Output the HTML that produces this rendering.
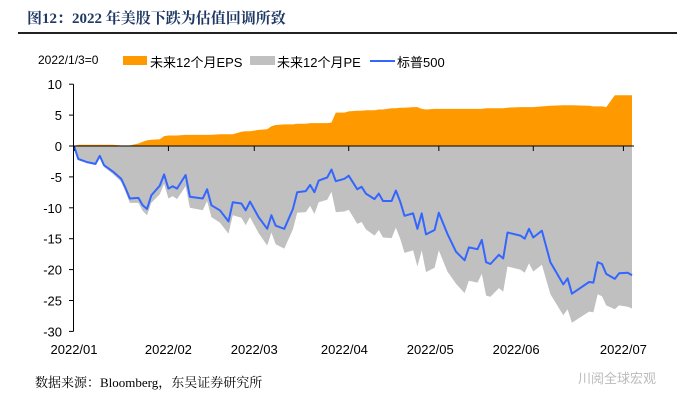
<!DOCTYPE html>
<html><head><meta charset="utf-8"><style>
body{margin:0;background:#fff;width:700px;height:404px;overflow:hidden;position:relative;font-family:"Liberation Sans","Noto Sans CJK SC",sans-serif}
.t{position:absolute;white-space:nowrap}
</style></head><body>
<div class="t" style="left:27px;top:7px;font-family:'Liberation Serif','Noto Serif CJK SC',serif;font-weight:bold;font-size:15px;color:#1f3864">图12：2022 年美股下跌为估值回调所致</div>
<div style="position:absolute;left:18px;top:32px;width:659px;height:2px;background:#222"></div>
<div class="t" style="left:38px;top:53px;font-size:12px;color:#000">2022/1/3=0</div>
<div>
<div style="position:absolute;left:123px;top:56px;width:24px;height:9px;background:#ff9900"></div>
<div class="t" style="left:150px;top:52px;font-size:13px">未来12个月EPS</div></div>
<div>
<div style="position:absolute;left:250px;top:56px;width:25px;height:9px;background:#c0c0c0"></div>
<div class="t" style="left:277px;top:52px;font-size:13px">未来12个月PE</div></div>
<div>
<div style="position:absolute;left:370px;top:60px;width:25px;height:2px;background:#3366ff"></div>
<div class="t" style="left:397px;top:52px;font-size:13px">标普500</div></div>
<svg id="chart" width="700" height="404" style="position:absolute;left:0;top:0"></svg>
<div class="t" style="left:35px;top:372px;font-family:'Liberation Serif','Noto Serif CJK SC',serif;font-size:13px">数据来源：Bloomberg，东吴证券研究所</div>
<div class="t" style="left:578px;top:368px;font-size:13px;color:#bbb">川阅全球宏观</div>
<script>
const days=[0,1,3,5,6,7,9,11,12,13,15,16,17,18,20,21,22,23,24,26,27,30,31,32,34,36,37,39,40,41,43,45,46,47,49,51,52,54,55,56,57,59,60,61,63,64,66,67,68,70,71,72,74,75,76,77,79,80,81,82,84,85,87,89,91,92,94,95,96,97,99,100,101,104,105,106,107,109,111,114,115,116,120,121,122,123,124,126,127,129,130];
const sp500=[0,-2.1,-2.6,-2.9,-1.6,-3.1,-4.1,-5.3,-6.8,-8.5,-8.4,-9.6,-10.2,-8,-6.4,-4.6,-6.9,-6.5,-6.9,-4.7,-8.2,-8.5,-7,-9.6,-10.4,-12.2,-9.1,-9.3,-10.4,-9,-11.5,-13.4,-11.2,-12.9,-13.4,-10.2,-7.5,-7.3,-6.3,-7.5,-5.6,-5.1,-3.8,-5.7,-5.3,-4.8,-7,-6.6,-7.7,-8.6,-7.7,-8.9,-8.9,-7.2,-9,-11.3,-10.9,-13.4,-10.9,-14.3,-13.6,-10.8,-14.2,-17.1,-18.5,-16.4,-16.7,-15.2,-18.8,-19.1,-17.6,-18.2,-14,-14.5,-15,-13.4,-14.8,-13.7,-18.8,-22.4,-21.4,-23.9,-22,-22.1,-18.8,-19.1,-20.7,-21.5,-20.6,-20.5,-20.9];
const pe=[0,-2.1,-2.7,-3.1,-1.9,-3.4,-4.5,-5.8,-7.4,-9.2,-9.2,-10.5,-11.2,-9.2,-7.8,-6.1,-8.5,-8.1,-8.6,-6.5,-10.0,-10.4,-8.9,-11.5,-12.4,-14.2,-11.2,-11.6,-12.8,-11.5,-14.1,-16.1,-14.0,-15.9,-16.6,-13.5,-10.8,-10.7,-9.7,-11.0,-9.1,-8.7,-7.4,-10.7,-10.6,-10.3,-12.6,-12.3,-13.5,-14.5,-13.6,-14.8,-14.9,-13.2,-15.0,-17.3,-16.9,-19.5,-16.9,-20.4,-19.7,-16.9,-20.3,-22.3,-23.8,-21.8,-22.1,-20.7,-24.2,-24.4,-23.0,-23.6,-19.5,-20.0,-20.5,-19.0,-20.3,-19.2,-24.0,-27.4,-26.4,-28.6,-26.8,-26.9,-24.0,-24.3,-25.8,-26.4,-25.8,-26.0,-26.3];
const eps=[0,0.2,0.2,0.2,0.2,0.2,0.2,0.1,0.1,0.1,0.4,0.7,0.9,1.0,1.1,1.6,1.7,1.7,1.7,1.8,1.8,1.8,1.8,1.8,1.9,1.9,1.9,2.3,2.4,2.4,2.6,2.7,3.2,3.4,3.5,3.5,3.6,3.6,3.7,3.7,3.7,3.7,3.8,5.4,5.4,5.6,5.7,5.7,5.8,5.8,5.9,5.9,6.1,6.1,6.2,6.2,6.3,6.3,6.0,5.9,6.0,6.0,6.0,6.0,6.0,6.0,6.0,6.0,6.1,6.1,6.1,6.1,6.2,6.3,6.3,6.3,6.3,6.4,6.5,6.6,6.6,6.6,6.5,6.4,6.4,6.4,6.3,8.2,8.2,8.2,8.2];
const yTicks=[10,5,0,-5,-10,-15,-20,-25,-30];
const xLabels=["2022/01","2022/02","2022/03","2022/04","2022/05","2022/06","2022/07"];
const xLabelDays=[0,22,42,63,83,103,128];
const xTickDays=[0,22,42,64,85,107,128];

const svg=document.getElementById('chart');const NS='http://www.w3.org/2000/svg';
const X=d=>74+d/130*558;const Y=v=>146-v*6.18;
function mk(t,a){const e=document.createElementNS(NS,t);for(const k in a)e.setAttribute(k,a[k]);svg.appendChild(e);return e;}
function area(vals){let s='M'+X(days[0])+','+Y(0);days.forEach((d,i)=>s+='L'+X(d).toFixed(1)+','+Y(vals[i]).toFixed(1));s+='L'+X(days[days.length-1])+','+Y(0)+'Z';return s;}
const peA=mk('path',{d:area(pe),fill:'#c0c0c0'});


const epsA=mk('path',{d:area(eps),fill:'#ff9900'});


let ls='';days.forEach((d,i)=>ls+=(i?'L':'M')+X(d).toFixed(1)+','+Y(sp500[i]).toFixed(1));
const line=mk('path',{d:ls,fill:'none',stroke:'#3366ff','stroke-width':2,'stroke-linejoin':'round'});


const ya=mk('line',{x1:73.5,y1:Y(10),x2:73.5,y2:Y(-30),stroke:'#000'});


yTicks.forEach(v=>{
 mk('line',{x1:69,y1:Y(v),x2:73.5,y2:Y(v),stroke:'#000'});
 const t=mk('text',{x:62,y:Y(v)+5,'text-anchor':'end','font-size':13,'font-family':'Liberation Sans,sans-serif'});t.textContent=v;
 
 
});
const xa=mk('line',{x1:73.5,y1:Y(0),x2:X(130)+2,y2:Y(0),stroke:'#000'});


xTickDays.forEach(d=>mk('line',{x1:X(d),y1:Y(0),x2:X(d),y2:Y(0)+5,stroke:'#000'}));
xLabels.forEach((l,i)=>{
 const t=mk('text',{x:X(xLabelDays[i]),y:354,'text-anchor':'middle','font-size':13,'font-family':'Liberation Sans,sans-serif'});t.textContent=l;
 
 
});
</script>
</body></html>
